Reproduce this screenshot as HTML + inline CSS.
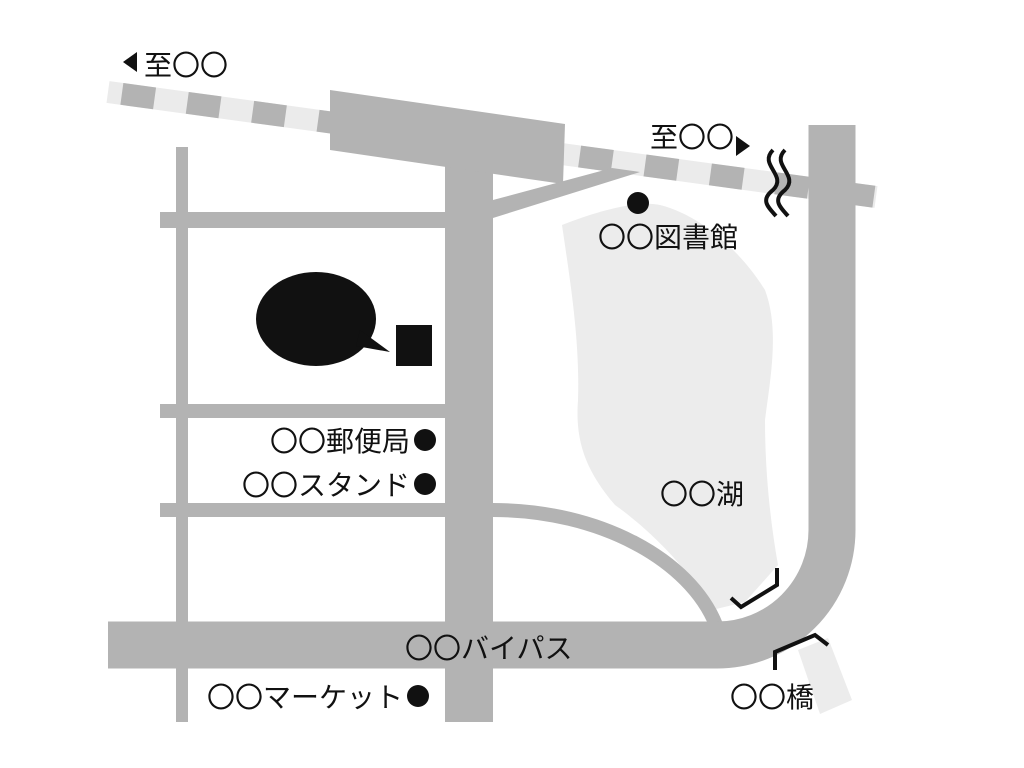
<!DOCTYPE html>
<html><head><meta charset="utf-8"><style>
html,body{margin:0;padding:0;background:#fff;}
svg{display:block;}
text{font-family:"Liberation Sans","Noto Sans CJK JP",sans-serif;font-size:28px;fill:#111;}
</style></head><body>
<svg width="1024" height="768" viewBox="0 0 1024 768" xmlns="http://www.w3.org/2000/svg">
<!-- lake -->
<path d="M562,225 C600,210 640,200 660,205 C700,215 740,250 765,290 C780,330 770,380 765,420 C765,470 770,520 778,565 L745,602 L712,610 C690,570 650,530 615,505 C585,470 575,440 578,400 C580,340 570,280 562,225 Z" fill="#ececec"/>
<path d="M798,650 L828,638 L852,700 L820,714 Z" fill="#ececec"/>
<!-- rail -->
<line x1="108" y1="92" x2="876" y2="197" stroke="#ebebeb" stroke-width="22"/>
<line x1="108" y1="92" x2="876" y2="197" stroke="#b3b3b3" stroke-width="22" stroke-dasharray="33 33" stroke-dashoffset="-14"/>
<!-- roads -->
<g fill="#b3b3b3">
<rect x="176" y="147" width="12" height="575"/>
<rect x="160" y="212" width="290" height="16"/>
<rect x="160" y="404" width="290" height="14"/>
<rect x="160" y="503" width="290" height="14"/>
<rect x="445" y="160" width="48" height="562"/>
<polygon points="330,90 565,124 563,184 330,150"/>
<polygon points="493,200 612,168 640,172 493,218"/>
</g>
<path d="M493,510 C600,510 690,560 716,625" fill="none" stroke="#b3b3b3" stroke-width="14"/>
<path d="M108,645 H717 A115,115 0 0 0 832,530 V125" fill="none" stroke="#b3b3b3" stroke-width="47"/>
<!-- blob -->
<ellipse cx="316" cy="319" rx="60" ry="47" fill="#111"/>
<polygon points="360,330 390,352 356,346" fill="#111"/>
<rect x="396" y="325" width="36" height="41" fill="#111"/>
<!-- river marks -->
<path d="M773,150 C758,165 788,175 773,190 C760,200 768,207 776,216" fill="none" stroke="#111" stroke-width="4"/>
<path d="M785,150 C770,165 800,175 785,190 C772,200 780,207 788,216" fill="none" stroke="#111" stroke-width="4"/>
<path d="M731,598 L741,607 L777,585 L777,568" fill="none" stroke="#111" stroke-width="4"/>
<path d="M775,670 L775,652 L815,635 L828,645" fill="none" stroke="#111" stroke-width="4"/>
<!-- arrows -->
<polygon points="123,62 137,52 137,72" fill="#111"/>
<polygon points="750,146 736,136 736,156" fill="#111"/>
<circle cx="638" cy="203" r="11" fill="#111"/>
<!-- labels -->
<text x="144" y="75">至〇〇</text>
<text x="650" y="147">至〇〇</text>
<text x="598" y="247">〇〇図書館</text>
<text x="270" y="451">〇〇郵便局</text>
<circle cx="425" cy="440" r="11" fill="#111"/>
<text x="242" y="495">〇〇スタンド</text>
<circle cx="425" cy="484" r="11" fill="#111"/>
<text x="660" y="504">〇〇湖</text>
<text x="405" y="658">〇〇バイパス</text>
<text x="207" y="707">〇〇マーケット</text>
<circle cx="418" cy="696" r="11" fill="#111"/>
<text x="730" y="707">〇〇橋</text>
</svg>
</body></html>
